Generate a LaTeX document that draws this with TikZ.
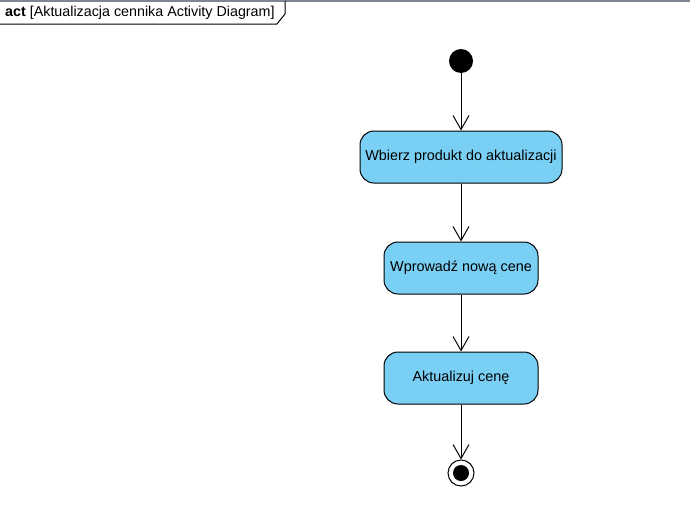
\documentclass[tikz,border=0pt]{standalone}
\usepackage{fontspec}
\setmainfont{Liberation Sans}
\usetikzlibrary{arrows.meta}
\definecolor{actfill}{HTML}{7ACFF5}
\definecolor{framegray}{HTML}{7F8591}
\tikzset{
  actbox/.style={draw=black, fill=actfill, rounded corners=14pt, line width=1pt, minimum height=52pt, inner sep=0pt, font=\fontsize{14.4}{16}\selectfont},
  flow/.style={draw=black, line width=1pt, -{Straight Barb[length=14pt,width=16pt,line width=1pt]}},
}
\begin{document}
\begin{tikzpicture}[x=1pt,y=-1pt]
\useasboundingbox (0,0) rectangle (690,530);
% frame
\draw[framegray, line width=1.5pt] (0,1) -- (690,1);
\draw[black, line width=1pt] (0,24) -- (277,24) -- (285,14) -- (285,1);
\node[anchor=west, inner sep=0pt, font=\fontsize{14.3}{16}\selectfont] (title) at (5,12.5) {\textbf{act} [Aktualizacja cennika Activity Diagram]};
% nodes
\node[circle, fill=black, minimum size=24pt, inner sep=0pt] (start) at (461,61) {};
\node[actbox, minimum width=202pt] (a1) at (461,157) {Wbierz produkt do aktualizacji};
\node[actbox, minimum width=154pt] (a2) at (461,268) {Wprowadź nową cene};
\node[actbox, minimum width=154pt] (a3) at (461,378) {Aktualizuj cenę};
\node[circle, draw=black, line width=1pt, fill=white, minimum size=26pt, inner sep=0pt] (end) at (461,473) {};
\node[circle, fill=black, minimum size=16pt, inner sep=0pt] (endin) at (461,473) {};
% flows
\draw[flow] (start) -- (a1);
\draw[flow] (a1) -- (a2);
\draw[flow] (a2) -- (a3);
\draw[flow] (a3) -- (end);
\end{tikzpicture}
\end{document}
